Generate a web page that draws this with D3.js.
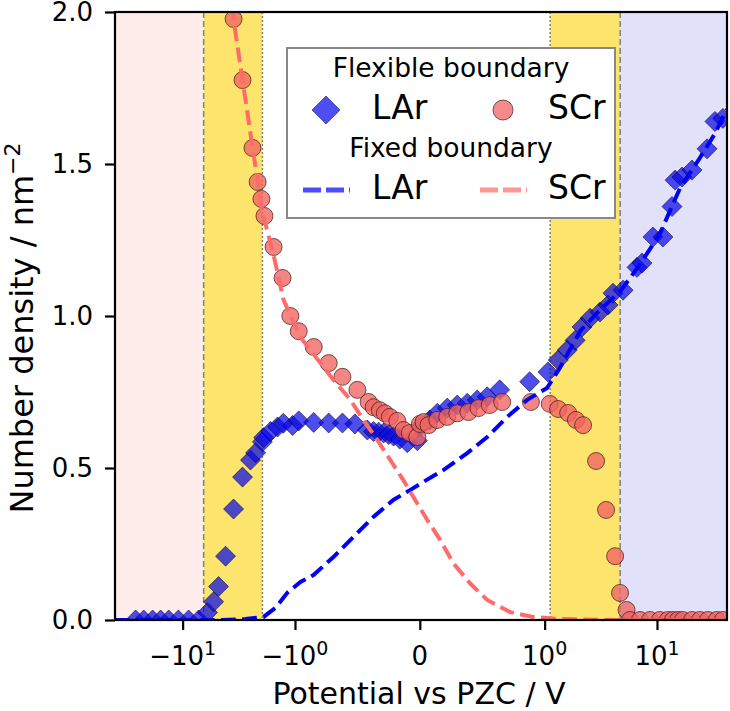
<!DOCTYPE html>
<html><head><meta charset="utf-8">
<script src="https://cdn.jsdelivr.net/npm/d3@7"></script>
<style>body{margin:0;background:#fff}svg{display:block}text{font-family:"DejaVu Sans",sans-serif;fill:#000}</style>
</head><body>
<script>
// ---------- data ----------
const xDomain = [-40, 42];
const yDomain = [0, 2];
const xTickValues = [-10, -1, 0, 1, 10];
const xTickLabels = ["−10^1", "−10^0", "0", "10^0", "10^1"];
const yTickValues = [0, 0.5, 1.0, 1.5, 2.0];
const regionEdges = [-6.5, -1.95, 1.12, 4.7];

const larFlexX = [-26.2,-22.2,-18.5,-15.7,-13.3,-10.9,-8.85,-7.2,-6.0,-5.3,-4.79,-4.15,-3.52,-2.93,-2.49,-2.24,-1.95,-1.9,-1.65,-1.43,-1.27,-1.05,
  -0.97,-0.85,-0.73,-0.62,-0.52,-0.42,-0.37,-0.33,-0.29,-0.25,-0.21,-0.16,-0.1,-0.02,
  0.0,0.08,0.14,0.22,0.3,0.38,0.46,0.54,0.64,0.88,
  1.07,1.32,1.59,1.87,2.15,2.54,3.11,3.67,4.06,4.99,
  6.64,7.36,9.2,11.3,13.6,14.5,16.7,20.5,27.9,32.8,38.6];
const larFlexY = [0,0,0,0,0,0,0,0,0.025,0.06,0.11,0.21,0.365,0.47,0.526,0.55,0.586,0.60,0.62,0.635,0.647,0.64,
  0.655,0.65,0.648,0.648,0.645,0.625,0.62,0.618,0.615,0.61,0.605,0.595,0.583,0.59,
  0.635,0.658,0.68,0.697,0.707,0.713,0.724,0.734,0.757,0.784,
  0.816,0.855,0.888,0.92,0.964,0.993,1.013,1.036,1.075,1.085,
  1.16,1.174,1.26,1.26,1.36,1.447,1.457,1.48,1.55,1.64,1.65];

const scrFlexX = [-3.52,-2.93,-2.39,-2.15,-1.99,-1.87,-1.55,-1.29,-1.1,
  -0.97,-0.85,-0.73,-0.62,-0.5,-0.41,-0.37,-0.32,-0.28,-0.24,-0.18,-0.13,-0.08,-0.02,
  0.0,0.03,0.07,0.14,0.22,0.3,0.39,0.47,0.56,0.66,
  0.89,1.11,1.32,1.62,1.9,2.2,2.87,3.52,4.24,4.69,5.36,
  5.75,7.06,8.67,10.6,12.5,13.9,15.4,17.0,20.5,24.1,28.4,34.1,38.6];
const scrFlexY = [1.977,1.776,1.553,1.441,1.385,1.329,1.227,1.125,1.0,
  0.95,0.898,0.845,0.8,0.757,0.717,0.70,0.69,0.68,0.668,0.655,0.625,0.615,0.602,
  0.645,0.651,0.641,0.658,0.668,0.68,0.684,0.697,0.707,0.717,
  0.717,0.711,0.694,0.681,0.658,0.641,0.523,0.362,0.21,0.089,0.033,
  0,0,0,0,0,0,0,0,0,0,0,0,0];

const larFixX = [-40,-4.59,-2.75,-1.905,-1.49,-1.167,-0.956,-0.852,-0.692,-0.532,-0.372,-0.212,-0.076,
  0.028,0.188,0.38,0.54,0.70,0.86,1.05,1.37,2.07,3.11,4.69,7.06,10.6,16.0,24.1,32.8,41.9];
const larFixY = [0,0,0.003,0.01,0.04,0.09,0.125,0.148,0.207,0.273,0.339,0.395,0.428,
  0.454,0.493,0.549,0.602,0.668,0.724,0.763,0.83,0.95,1.02,1.08,1.17,1.27,1.42,1.52,1.6,1.68];

const scrFixX = [-4.0,-3.52,-2.93,-2.39,-1.945,-1.55,-1.265,-0.956,-0.796,-0.692,-0.556,-0.452,-0.34,-0.236,-0.132,-0.052,
  0.06,0.164,0.268,0.404,0.54,0.724,0.908,1.37,4.69,41.9];
const scrFixY = [2.3,1.974,1.776,1.556,1.34,1.2,1.053,0.93,0.845,0.79,0.724,0.658,0.592,0.526,0.46,0.405,
  0.329,0.263,0.187,0.12,0.066,0.026,0.01,0.003,0,0];

// ---------- layout ----------
const W = 730, H = 711;
const L = 115, R = 727, T = 12, B = 620;

// matplotlib-style symlog (linthresh=1, linscale=1, base=10)
const linthresh = 1, linscaleAdj = 1 / (1 - 1 / 10);
function symT(v) {
  const a = Math.abs(v);
  if (a <= linthresh) return v * linscaleAdj;
  return Math.sign(v) * linthresh * (linscaleAdj + Math.log10(a / linthresh));
}
const xLin = d3.scaleLinear().domain(xDomain.map(symT)).range([L, R]);
const x = v => xLin(symT(v));
const y = d3.scaleLinear().domain(yDomain).range([B, T]);

const svg = d3.select("body").append("svg").attr("width", W).attr("height", H);
svg.append("defs").append("clipPath").attr("id", "clip")
  .append("rect").attr("x", L).attr("y", T).attr("width", R - L).attr("height", B - T);
const plot = svg.append("g").attr("clip-path", "url(#clip)");

// background regions
const spans = [
  [xDomain[0], regionEdges[0], "#feecea"],
  [regionEdges[0], regionEdges[1], "#fde56d"],
  [regionEdges[2], regionEdges[3], "#fde56d"],
  [regionEdges[3], xDomain[1], "#e1e1f9"]
];
plot.selectAll("rect.span").data(spans).enter().append("rect")
  .attr("x", d => x(d[0])).attr("width", d => x(d[1]) - x(d[0]))
  .attr("y", T).attr("height", B - T).attr("fill", d => d[2]);
// boundary lines
const bl = [[regionEdges[0], "6,3"], [regionEdges[1], "2,2"], [regionEdges[2], "2,2"], [regionEdges[3], "6,3"]];
plot.selectAll("line.bl").data(bl).enter().append("line")
  .attr("x1", d => x(d[0])).attr("x2", d => x(d[0])).attr("y1", T).attr("y2", B)
  .attr("stroke", "#808080").attr("stroke-width", 1.5).attr("stroke-dasharray", d => d[1]);

// markers
const larPts = larFlexX.map((v, i) => [v, larFlexY[i]]);
const scrPts = scrFlexX.map((v, i) => [v, scrFlexY[i]]);
const dS = 10;
plot.selectAll("path.lar").data(larPts).enter().append("path")
  .attr("d", d => `M${x(d[0])},${y(d[1]) - dS}L${x(d[0]) + dS},${y(d[1])}L${x(d[0])},${y(d[1]) + dS}L${x(d[0]) - dS},${y(d[1])}Z`)
  .attr("fill", "rgba(10,10,230,0.72)").attr("stroke", "rgba(0,0,50,0.55)").attr("stroke-width", 1);
plot.selectAll("circle.scr").data(scrPts).enter().append("circle")
  .attr("cx", d => x(d[0])).attr("cy", d => y(d[1])).attr("r", 8.5)
  .attr("fill", "rgba(240,100,96,0.78)").attr("stroke", "rgba(70,20,20,0.7)").attr("stroke-width", 1);

// fixed boundary lines
const line = d3.line().x(d => x(d[0])).y(d => y(d[1]));
plot.append("path").datum(larFixX.map((v, i) => [v, larFixY[i]])).attr("d", line)
  .attr("fill", "none").attr("stroke", "#0000f5").attr("stroke-width", 4).attr("stroke-dasharray", "14.8,6.4");
plot.append("path").datum(scrFixX.map((v, i) => [v, scrFixY[i]])).attr("d", line)
  .attr("fill", "none").attr("stroke", "#ff6a6a").attr("stroke-width", 4).attr("stroke-dasharray", "14.8,6.4");

// axes
const xAxis = svg.append("g").attr("transform", `translate(0,${B})`)
  .call(d3.axisBottom(xLin).tickValues(xTickValues.map(symT)).tickFormat("").tickSize(10).tickSizeOuter(0));
const yAxis = svg.append("g").attr("transform", `translate(${L},0)`)
  .call(d3.axisLeft(y).tickValues(yTickValues).tickFormat(d3.format(".1f")).tickSize(10).tickSizeOuter(0).tickPadding(12));
[xAxis, yAxis].forEach(g => {
  g.select(".domain").remove();
  g.selectAll(".tick line").attr("stroke", "#000").attr("stroke-width", 2.2);
});
yAxis.selectAll(".tick text").attr("font-size", 26).attr("font-family", "DejaVu Sans").attr("fill", "#000");

// x tick labels with superscripts
xTickValues.forEach((v, i) => {
  const parts = xTickLabels[i].split("^");
  const t = svg.append("text").attr("x", x(v)).attr("y", 665).attr("text-anchor", "middle").attr("font-size", 26);
  t.append("tspan").text(parts[0]);
  if (parts[1]) t.append("tspan").attr("font-size", 19).attr("dy", -10).text(parts[1]);
});

// frame
svg.append("rect").attr("x", L).attr("y", T).attr("width", R - L).attr("height", B - T)
  .attr("fill", "none").attr("stroke", "#000").attr("stroke-width", 2.2);

// axis labels
svg.append("text").attr("x", (L + R) / 2 - 2).attr("y", 704).attr("text-anchor", "middle")
  .attr("font-size", 30).text("Potential vs PZC / V");
const yl = svg.append("text").attr("transform", `translate(33,${(T + B) / 2 + 12}) rotate(-90)`)
  .attr("text-anchor", "middle").attr("font-size", 32);
yl.append("tspan").text("Number density / nm");
yl.append("tspan").attr("font-size", 22).attr("dy", -13).text("−2");

// legend
const lg = svg.append("g");
lg.append("rect").attr("x", 287).attr("y", 48).attr("width", 328).attr("height", 170)
  .attr("fill", "#fff").attr("stroke", "#888").attr("stroke-width", 2);
lg.append("text").attr("x", 451).attr("y", 77).attr("text-anchor", "middle").attr("font-size", 26.5).text("Flexible boundary");
lg.append("text").attr("x", 451).attr("y", 157).attr("text-anchor", "middle").attr("font-size", 26.5).text("Fixed boundary");
lg.append("path").attr("d", "M326,96L340,110L326,124L312,110Z")
  .attr("fill", "rgba(10,10,240,0.72)").attr("stroke", "rgba(0,0,50,0.5)").attr("stroke-width", 1);
lg.append("circle").attr("cx", 503).attr("cy", 110).attr("r", 10)
  .attr("fill", "rgba(240,110,110,0.8)").attr("stroke", "rgba(70,20,20,0.7)").attr("stroke-width", 1);
lg.append("line").attr("x1", 303).attr("x2", 350).attr("y1", 190).attr("y2", 190)
  .attr("stroke", "#4d4dff").attr("stroke-width", 5).attr("stroke-dasharray", "18,5");
lg.append("line").attr("x1", 480).attr("x2", 527).attr("y1", 190).attr("y2", 190)
  .attr("stroke", "#ff9696").attr("stroke-width", 5).attr("stroke-dasharray", "18,5");
[["LAr", 372, 119], ["SCr", 548, 119], ["LAr", 372, 199], ["SCr", 548, 199]].forEach(d => {
  lg.append("text").attr("x", d[1]).attr("y", d[2]).attr("font-size", 33).text(d[0]);
});
</script>
</body></html>
